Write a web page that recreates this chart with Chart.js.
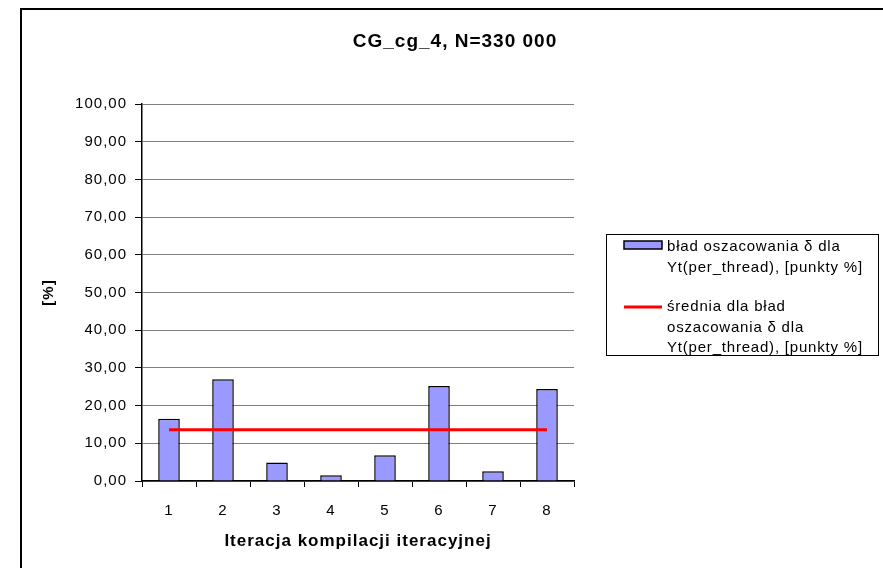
<!DOCTYPE html>
<html>
<head>
<meta charset="utf-8">
<script src="https://cdn.jsdelivr.net/npm/chart.js@4/dist/chart.umd.min.js"></script>
<style>
html,body{margin:0;padding:0;background:#fff;}
#wrap{position:relative;width:883px;height:568px;}
</style>
</head>
<body>
<div id="wrap"><canvas id="c" width="883" height="568"></canvas></div>
<script>
// ---- data ----
const chartTitle = 'CG_cg_4, N=330 000';
const categories = ['1', '2', '3', '4', '5', '6', '7', '8'];
const errorValues = [16.5, 27.0, 4.9, 1.5, 6.8, 25.2, 2.6, 24.4];
const meanValue = 13.6;
const meanValues = [meanValue, meanValue, meanValue, meanValue, meanValue, meanValue, meanValue, meanValue];
const seriesNames = ['bład oszacowania δ dla Yt(per_thread), [punkty %]',
                     'średnia dla bład oszacowania δ dla Yt(per_thread), [punkty %]'];
const legendLines = [
  ['bład oszacowania δ dla', 'Yt(per_thread), [punkty %]'],
  ['średnia dla bład', 'oszacowania δ dla', 'Yt(per_thread), [punkty %]']
];
const xAxisTitle = 'Iteracja kompilacji iteracyjnej';
const yAxisTitle = '[%]';
const yMin = 0, yMax = 100, yStep = 10;

const FONT = "'Liberation Sans', Arial, sans-serif";
const SPACING = '1px';

const spacingPlugin = {
  id: 'spacing',
  beforeLayout(chart) { chart.ctx.letterSpacing = SPACING; },
  beforeDraw(chart) { chart.ctx.letterSpacing = SPACING; }
};

const decorPlugin = {
  id: 'decor',
  afterDraw(chart) {
    const ctx = chart.ctx;
    ctx.save();
    ctx.letterSpacing = SPACING;
    // frame
    ctx.fillStyle = '#000';
    ctx.fillRect(20, 8, 883 - 20, 2);
    ctx.fillRect(20, 8, 2, 568 - 8);
    // title
    ctx.font = 'bold 19px ' + FONT;
    ctx.textAlign = 'center';
    ctx.textBaseline = 'middle';
    ctx.fillText(chartTitle, 455, 42);
    // legend box
    ctx.strokeStyle = '#000';
    ctx.lineWidth = 1;
    ctx.strokeRect(606.5, 234.5, 272, 121);
    ctx.letterSpacing = '0.8px';
    ctx.font = '15px ' + FONT;
    ctx.textAlign = 'left';
    const lh = 20.5;
    let y = 247;
    const ds = chart.data.datasets;
    // item 1: bar swatch
    ctx.fillStyle = ds[0].backgroundColor;
    ctx.fillRect(624, 241, 38, 8);
    ctx.strokeStyle = '#000';
    ctx.lineWidth = 1.5;
    ctx.strokeRect(624, 241, 38, 8);
    ctx.fillStyle = '#000';
    legendLines[0].forEach((t, i) => ctx.fillText(t, 667, y + i * lh));
    y = 307;
    ctx.strokeStyle = ds[1].borderColor;
    ctx.lineWidth = 3;
    ctx.beginPath();
    ctx.moveTo(624, y);
    ctx.lineTo(662, y);
    ctx.stroke();
    legendLines[1].forEach((t, i) => ctx.fillText(t, 667, y + i * lh));
    ctx.restore();
  }
};

new Chart(document.getElementById('c'), {
  type: 'bar',
  data: {
    labels: categories,
    datasets: [
      {
        type: 'bar',
        label: seriesNames[0],
        data: errorValues,
        backgroundColor: '#9999FF',
        borderColor: '#000',
        borderWidth: 1.5,
        categoryPercentage: 1,
        barPercentage: 0.4,
        order: 2
      },
      {
        type: 'line',
        label: seriesNames[1],
        data: meanValues,
        borderColor: '#FF0000',
        backgroundColor: '#FF0000',
        borderWidth: 3,
        pointRadius: 0,
        fill: false,
        order: 1
      }
    ]
  },
  options: {
    responsive: false,
    animation: false,
    devicePixelRatio: 1,
    layout: { padding: { left: 36, top: 104, right: 309, bottom: 12 } },
    plugins: {
      legend: { display: false },
      title: { display: false },
      tooltip: { enabled: false }
    },
    scales: {
      x: {
        offset: true,
        afterFit(s) { s.height = 75; },
        grid: { display: true, drawOnChartArea: false, drawTicks: true, tickLength: 6, tickColor: '#000', offset: true },
        border: { display: true, color: '#000', width: 1.5 },
        ticks: { color: '#000', font: { family: FONT, size: 15 }, padding: 15, maxRotation: 0 },
        title: { display: true, text: xAxisTitle, color: '#000', font: { family: FONT, size: 17, weight: 'bold' }, padding: { top: 4, bottom: 4 } }
      },
      y: {
        min: yMin, max: yMax,
        afterFit(s) { s.width = 106; },
        grid: { color: '#808080', lineWidth: 1, drawTicks: true, tickLength: 7, tickColor: '#000' },
        border: { display: true, color: '#000', width: 1.5 },
        ticks: { stepSize: yStep, color: '#000', font: { family: FONT, size: 15 }, padding: 8,
                 callback: v => v.toFixed(2).replace('.', ',') },
        title: { display: true, text: yAxisTitle, color: '#000', font: { family: FONT, size: 15, weight: 'bold' }, padding: { top: 4, bottom: 4 } }
      }
    }
  },
  plugins: [spacingPlugin, decorPlugin]
});
</script>
</body>
</html>
